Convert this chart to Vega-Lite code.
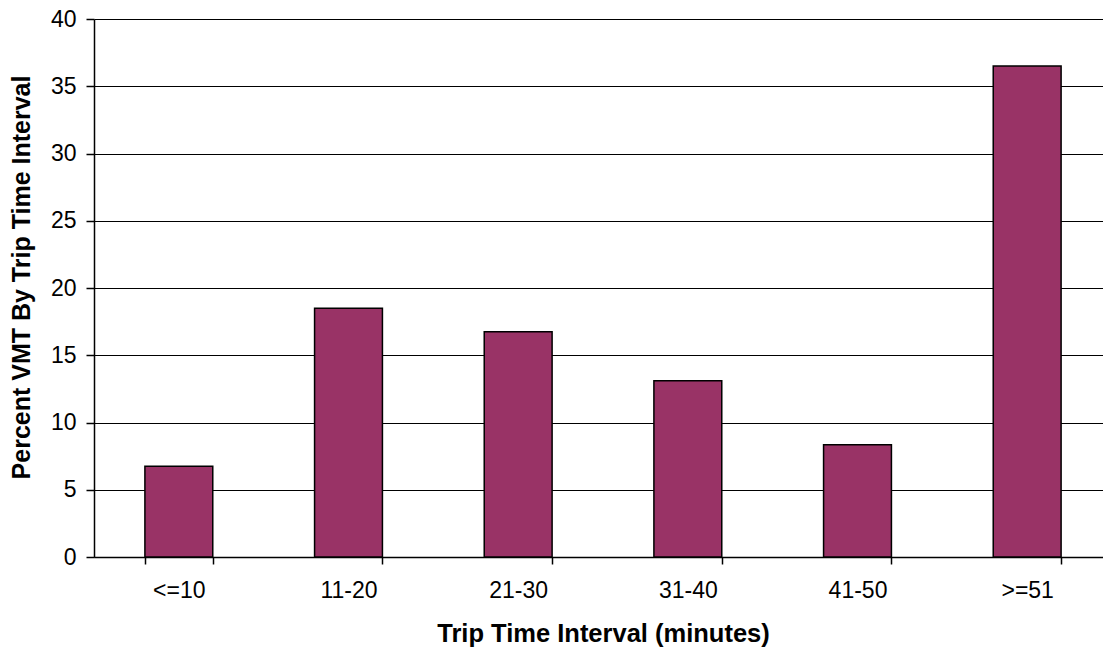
{
  "$schema": "https://vega.github.io/schema/vega-lite/v6.json",
  "autosize": "none",
  "width": 1009,
  "height": 538,
  "padding": {"left": 94, "top": 19, "right": 0, "bottom": 93},
  "background": "white",
  "config": {
    "view": {"stroke": null},
    "font": "Liberation Sans"
  },
  "data": {
    "values": [
      {"interval": "<=10", "pct": 6.75},
      {"interval": "11-20", "pct": 18.5},
      {"interval": "21-30", "pct": 16.75},
      {"interval": "31-40", "pct": 13.1},
      {"interval": "41-50", "pct": 8.35},
      {"interval": ">=51", "pct": 36.5}
    ]
  },
  "mark": {"type": "bar", "color": "#993366", "stroke": "black", "strokeWidth": 1.5},
  "encoding": {
    "x": {
      "field": "interval",
      "type": "ordinal",
      "sort": null,
      "scale": {"paddingInner": 0.6, "paddingOuter": 0.3, "range": [0, 1018]},
      "axis": {
        "title": "Trip Time Interval (minutes)",
        "titleFont": "Liberation Sans",
        "titleFontSize": 25.5,
        "titleFontWeight": "bold",
        "titleColor": "black",
        "titlePadding": 19,
        "labelAngle": 0,
        "labelFontSize": 23,
        "labelColor": "black",
        "labelPadding": 15,
        "tickBand": "extent",
        "tickSize": 7,
        "tickColor": "black",
        "domainColor": "black",
        "domainWidth": 1.5,
        "tickWidth": 1.5
      }
    },
    "y": {
      "field": "pct",
      "type": "quantitative",
      "scale": {"domain": [0, 40]},
      "axis": {
        "title": "Percent VMT By Trip Time Interval",
        "titleFont": "Liberation Sans",
        "titleFontSize": 25,
        "titleFontWeight": "bold",
        "titleColor": "black",
        "titlePadding": 16,
        "titleY": 258,
        "values": [0, 5, 10, 15, 20, 25, 30, 35, 40],
        "labelFontSize": 23,
        "labelColor": "black",
        "labelPadding": 10,
        "tickSize": 8,
        "tickColor": "black",
        "tickWidth": 1.5,
        "domainColor": "black",
        "domainWidth": 1.5,
        "grid": true,
        "gridColor": "black",
        "gridWidth": 1.2,
        "gridOpacity": 1
      }
    }
  }
}
